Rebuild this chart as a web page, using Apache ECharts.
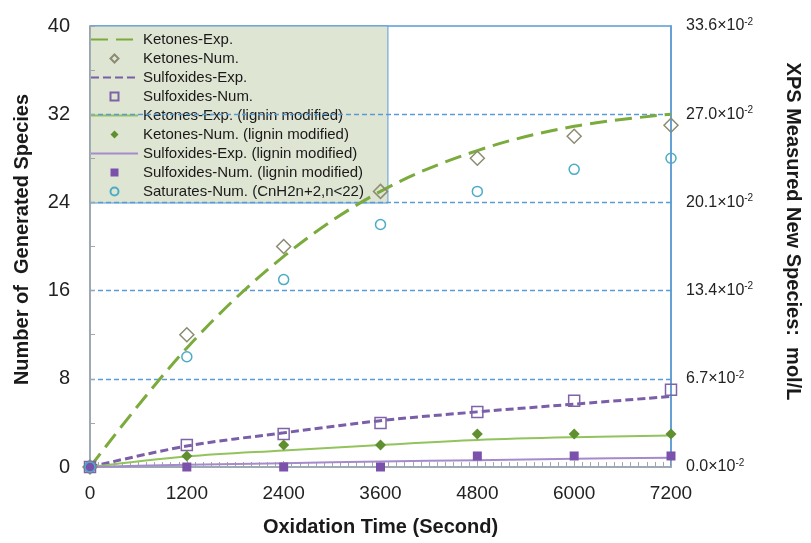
<!DOCTYPE html>
<html>
<head>
<meta charset="utf-8">
<script src="https://cdn.jsdelivr.net/npm/echarts@6/dist/echarts.min.js"></script>
<style>html,body{margin:0;padding:0;background:#fff}#c{width:811px;height:543px}</style>
</head>
<body>
<div id="c"></div>
<script>
// ---- data ----
var times = [0, 1200, 2400, 3600, 4800, 6000, 7200];
var ketonesExp = [0, 10.8, 19.1, 25, 28.7, 30.9, 32];
var ketonesNum = [0, 12, 20, 25, 28, 30, 31];
var sulfoxidesExp = [0, 1.9, 3.1, 4.2, 5.0, 5.7, 6.4];
var sulfoxidesNum = [0, 2, 3, 4, 5, 6, 7];
var ketonesExpLig = [0, 0.95, 1.5, 2.0, 2.45, 2.7, 2.85];
var ketonesNumLig = [0, 1, 2, 2, 3, 3, 3];
var sulfoxidesExpLig = [0, 0.2, 0.35, 0.5, 0.62, 0.75, 0.85];
var sulfoxidesNumLig = [0, 0, 0, 0, 1, 1, 1];
var saturatesNum = [0, 10, 17, 22, 25, 27, 28];
var leftTicks = [0, 8, 16, 24, 32, 40];
var rightTickLabels = ['0.0', '6.7', '13.4', '20.1', '27.0', '33.6'];
var seriesNames = [
  'Ketones-Exp.', 'Ketones-Num.', 'Sulfoxides-Exp.', 'Sulfoxides-Num.',
  'Ketones-Exp. (lignin modified)', 'Ketones-Num. (lignin modified)',
  'Sulfoxides-Exp. (lignin modified)', 'Sulfoxides-Num. (lignin modified)',
  'Saturates-Num. (CnH2n+2,n<22)'
];
var expSeries = [0, 2, 4, 6];

function pairs(arr) { return times.map(function (t, i) { return [t, arr[i]]; }); }

var FONT = 'Liberation Sans, Arial, sans-serif';
var BLUE = '#5b9bd5';
var GRAY = '#a6a6a6';
var HIDDEN_LINE = {width: 0, opacity: 0};

function numSeries(name, data, symbol, size, itemStyle) {
  return {name: name, type: 'line', data: pairs(data), symbol: symbol, symbolSize: size, showSymbol: true,
    z: 4, lineStyle: HIDDEN_LINE, itemStyle: itemStyle, emphasis: {disabled: true}};
}
function expLine(name, data, color, width, dash) {
  return {name: name, type: 'line', data: pairs(data), smooth: 0.35, symbol: 'none', z: 3,
    lineStyle: {color: color, width: width, type: dash}, itemStyle: {color: color}};
}

var legendData = seriesNames.map(function (n, i) {
  return expSeries.indexOf(i) >= 0 ? {name: n, itemStyle: {opacity: 0}} : {name: n};
});

var chart = echarts.init(document.getElementById('c'), null, {renderer: 'canvas'});
chart.setOption({
  animation: false,
  backgroundColor: '#fff',
  textStyle: {fontFamily: FONT},
  grid: {left: 90, right: 135, top: 26, bottom: 76, show: true, borderColor: BLUE, borderWidth: 1.5, backgroundColor: 'transparent', z: 0},
  legend: {
    orient: 'vertical', left: 90, top: 26, z: 0,
    backgroundColor: '#dfe5d3', borderColor: BLUE, borderWidth: 1,
    padding: [6, 24, 4, 0],
    itemWidth: 47, itemHeight: 10, itemGap: 4,
    textStyle: {fontFamily: FONT, fontSize: 15, color: '#1a1a1a', lineHeight: 15},
    data: legendData
  },
  xAxis: {
    type: 'value', min: 0, max: 7200, interval: 1200, z: 1,
    name: 'Oxidation Time (Second)', nameLocation: 'middle', nameGap: 50,
    nameTextStyle: {fontFamily: FONT, fontSize: 20, fontWeight: 'bold', color: '#1a1a1a'},
    axisLine: {show: true, lineStyle: {color: GRAY, width: 1.5}},
    axisTick: {show: true, inside: true, length: 6, lineStyle: {color: GRAY}},
    minorTick: {show: true, splitNumber: 12, length: 5, lineStyle: {color: GRAY}},
    axisLabel: {fontFamily: FONT, fontSize: 19, color: '#222', margin: 17,
      formatter: function (v) { return String(v); }},
    splitLine: {show: false}
  },
  yAxis: [{
    type: 'value', min: 0, max: 40, interval: 8, z: 1,
    name: 'Number of  Generated Species', nameLocation: 'middle', nameGap: 58,
    nameTextStyle: {fontFamily: FONT, fontSize: 20, fontWeight: 'bold', color: '#1a1a1a', padding: [0, 0, 0, 14]},
    axisLine: {show: true, lineStyle: {color: GRAY, width: 1.5}},
    axisTick: {show: true, inside: true, length: 5, lineStyle: {color: GRAY}},
    minorTick: {show: true, splitNumber: 2, length: 5, lineStyle: {color: GRAY}},
    axisLabel: {fontFamily: FONT, fontSize: 20, color: '#222', margin: 20,
      formatter: function (v) { return leftTicks.indexOf(v) >= 0 ? String(v) : ''; }},
    splitLine: {show: true, showMinLine: false, showMaxLine: false, lineStyle: {color: BLUE, width: 1.3, type: [5, 3]}}
  }, {
    type: 'value', min: 0, max: 40, interval: 8, position: 'right', z: 1,
    name: 'XPS Measured New Species:  mol/L', nameLocation: 'middle', nameGap: 112, nameRotate: -90,
    nameTextStyle: {fontFamily: FONT, fontSize: 20, fontWeight: 'bold', color: '#1a1a1a', padding: [0, 30, 0, 0]},
    axisLine: {show: true, lineStyle: {color: BLUE, width: 1.5}},
    axisTick: {show: false},
    axisLabel: {margin: 15, color: '#222',
      formatter: function (v) { var i = leftTicks.indexOf(v); return '{a|' + rightTickLabels[i] + '×10}{b|-2}'; },
      rich: {a: {fontFamily: FONT, fontSize: 16, color: '#222', lineHeight: 18}, b: {fontFamily: FONT, fontSize: 10, color: '#222', verticalAlign: 'top'}}},
    splitLine: {show: false}
  }],
  series: [
    expLine(seriesNames[0], ketonesExp, '#7aab3c', 3, [17, 8]),
    numSeries(seriesNames[1], ketonesNum, 'diamond', 14, {color: 'rgba(0,0,0,0)', borderColor: '#8c8c72', borderWidth: 1.5}),
    expLine(seriesNames[2], sulfoxidesExp, '#7a5ea8', 3, [8, 4]),
    numSeries(seriesNames[3], sulfoxidesNum, 'rect', 11, {color: 'rgba(0,0,0,0)', borderColor: '#7f63a8', borderWidth: 1.5}),
    expLine(seriesNames[4], ketonesExpLig, '#92c35d', 2, 'solid'),
    numSeries(seriesNames[5], ketonesNumLig, 'diamond', 11, {color: '#5f8f2f'}),
    expLine(seriesNames[6], sulfoxidesExpLig, '#a58bcb', 2, 'solid'),
    numSeries(seriesNames[7], sulfoxidesNumLig, 'rect', 9, {color: '#7b52ab'}),
    numSeries(seriesNames[8], saturatesNum, 'circle', 10, {color: 'rgba(0,0,0,0)', borderColor: '#4bacc6', borderWidth: 1.5})
  ]
});
</script>
</body>
</html>
